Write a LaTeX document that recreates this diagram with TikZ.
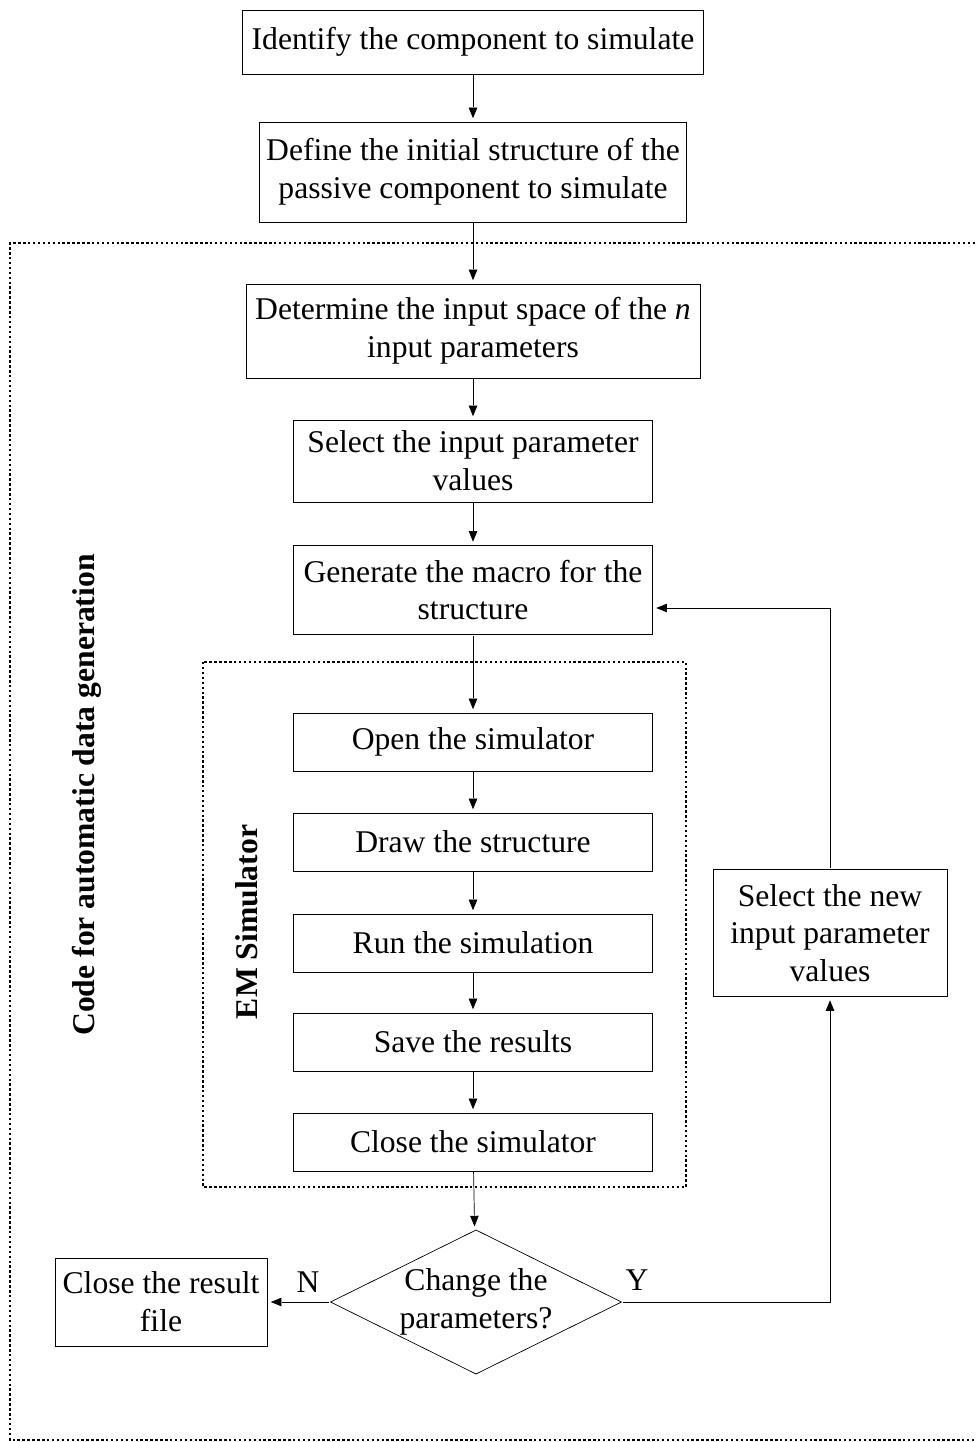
\documentclass[tikz,border=0pt]{standalone}
\usepackage{fontspec}
\setmainfont{Liberation Serif}
\usetikzlibrary{arrows.meta,shapes.geometric}

\begin{document}
\begin{tikzpicture}[x=0.02cm, y=-0.02cm, font=\fontsize{18}{21.5}\selectfont]
       \tikzset{>={Triangle[length=8pt,width=6pt]}, line width=1.4pt}
       \tikzset{box/.style={draw, align=center, inner sep=0pt},
                frame/.style={line width=1.4pt, dash pattern=on 1.4pt off 1.4pt}}
       \useasboundingbox (0,0) rectangle (975,1442);
       % frames
       \draw[frame] (975,243) -- (10,243) -- (10,1440) -- (975,1440);
       \draw[frame] (203,662) rectangle (686,1187);
       \node[rotate=90, font=\fontsize{18}{21.5}\selectfont\bfseries] (codelbl) at (87,795) {Code for automatic data generation};
       \node[rotate=90, font=\fontsize{18}{21.5}\selectfont\bfseries] (emlbl) at (247,922) {EM Simulator};
       % main chain
       \node[box, minimum width=9.22cm, minimum height=1.28cm] (ident) at (473,42) {Identify the component to simulate};
       \node[box, minimum width=8.54cm, minimum height=2cm] (define) at (473,172) {Define the initial structure of the\\passive component to simulate};
       \node[box, minimum width=9.08cm, minimum height=1.88cm] (determ) at (473,331) {Determine the input space of the \emph{n}\\input parameters};
       \node[box, minimum width=7.18cm, minimum height=1.64cm] (select) at (473,461) {Select the input parameter\\values};
       \node[box, minimum width=7.18cm, minimum height=1.78cm] (macro) at (473,590) {Generate the macro for the\\structure};
       \node[box, minimum width=7.18cm, minimum height=1.16cm] (open) at (473,742) {Open the simulator};
       \node[box, minimum width=7.18cm, minimum height=1.16cm] (drawst) at (473,842) {Draw the structure};
       \node[box, minimum width=7.18cm, minimum height=1.16cm] (run) at (473,943) {Run the simulation};
       \node[box, minimum width=7.18cm, minimum height=1.16cm] (save) at (473,1042) {Save the results};
       \node[box, minimum width=7.18cm, minimum height=1.16cm] (closesim) at (473,1142) {Close the simulator};
       \node[draw, diamond, inner sep=0pt, minimum width=5.84cm, minimum height=2.9cm] (chg) at (476,1302) {};
       \node[align=center] (chgtxt) at (chg) {Change the\\parameters?};
       \node[box, minimum width=4.24cm, minimum height=1.76cm] (result) at (161,1302) {Close the result\\file};
       \node[box, minimum width=4.68cm, minimum height=2.54cm] (newval) at (830,933) {Select the new\\input parameter\\values};
       \node (n) at (308,1282) {N};
       \node (y) at (637,1280) {Y};
       % connectors
       \foreach \a/\b in {ident/define, define/determ, determ/select, select/macro, macro/open,
                          open/drawst, drawst/run, run/save, save/closesim, closesim/chg}
              \draw[->] (\a) -- (\b);
       \draw[->] (chg.west) -- (result.east);
       \draw[->] (chg.east) -| (newval.south);
       \draw[->] (newval.north) |- ([yshift=-0.36cm]macro.east);
   \end{tikzpicture}
\end{document}
